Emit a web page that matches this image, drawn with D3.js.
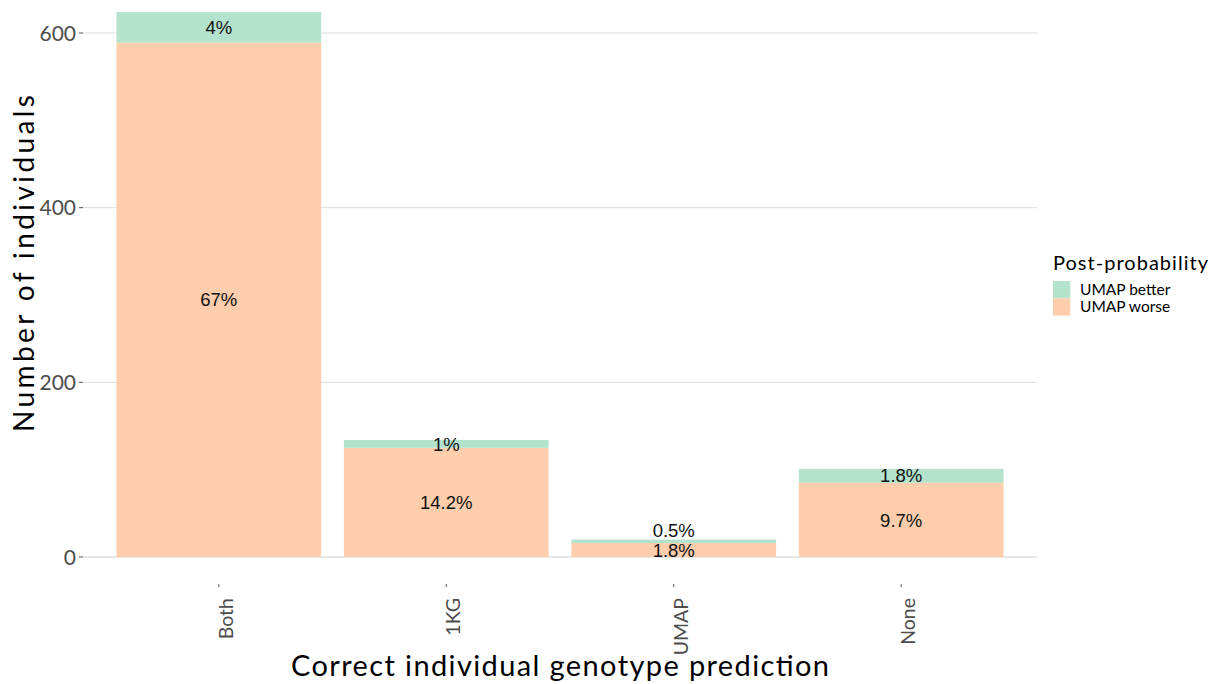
<!DOCTYPE html>
<html>
<head>
<meta charset="utf-8">
<script src="https://cdn.jsdelivr.net/npm/d3@7"></script>
<style>
  body { margin: 0; background: #fff; }
  svg { display: block; }
</style>
</head>
<body>
<svg id="chart" width="1218" height="684"></svg>
<script>
// ---- data ----
const categories = ["Both", "1KG", "UMAP", "None"];
const seriesNames = ["UMAP worse", "UMAP better"]; // stacked bottom -> top
const worseValues = [589, 125, 16, 85];
const betterValues = [35, 9, 4, 16];
const worseLabels = ["67%", "14.2%", "1.8%", "9.7%"];
const betterLabels = ["4%", "1%", "0.5%", "1.8%"];
const yTicks = [0, 200, 400, 600];
const legendNames = ["UMAP better", "UMAP worse"];
const colors = { "UMAP better": "#b3e2cd", "UMAP worse": "#fdcdac" };

const axisFont = "Lato, 'Open Sans', sans-serif";
const labelFont = "'Liberation Sans', Arial, sans-serif";

const svg = d3.select("#chart");
const panel = { left: 83, right: 1037, top: 12, bottom: 557 };

const x = d3.scaleBand().domain(categories)
  .range([panel.left, panel.right]).paddingInner(0.1).paddingOuter(0.147);
const y = d3.scaleLinear().domain([0, 600]).range([557, 33]);

// gridlines
svg.append("g").selectAll("line").data(yTicks).join("line")
  .attr("x1", panel.left).attr("x2", panel.right)
  .attr("y1", d => y(d)).attr("y2", d => y(d))
  .attr("stroke", d => d === 0 ? "#d0d0d0" : "#dcdcdc").attr("stroke-width", 1);

// stacked data
const rows = categories.map((c, i) => ({ cat: c, "UMAP worse": worseValues[i], "UMAP better": betterValues[i] }));
const stack = d3.stack().keys(seriesNames)(rows);

const layers = svg.append("g").selectAll("g").data(stack).join("g")
  .attr("fill", d => colors[d.key]);
layers.selectAll("rect").data(d => d).join("rect")
  .attr("x", d => x(d.data.cat))
  .attr("width", x.bandwidth())
  .attr("y", d => y(d[1]))
  .attr("height", d => y(d[0]) - y(d[1]));

// labels
const labelsByKey = { "UMAP worse": worseLabels, "UMAP better": betterLabels };
stack.forEach(layer => {
  layer.forEach((d, i) => {
    const top = y(d[1]), bot = y(d[0]);
    let cy = (top + bot) / 2;
    const isTop = layer.key === "UMAP better";
    if (isTop && (bot - top) < 5) cy = top - 9;
    svg.append("text")
      .attr("x", x(d.data.cat) + x.bandwidth() / 2)
      .attr("y", cy)
      .attr("dy", "0.36em")
      .attr("text-anchor", "middle")
      .attr("font-family", labelFont)
      .attr("font-size", 18.5)
      .attr("fill", "#111")
      .text(labelsByKey[layer.key][i]);
  });
});

// y axis ticks & labels
const ya = svg.append("g");
yTicks.forEach(t => {
  ya.append("line").attr("x1", 79).attr("x2", panel.left)
    .attr("y1", y(t)).attr("y2", y(t)).attr("stroke", "#555").attr("stroke-width", 1);
  ya.append("text").attr("x", 76).attr("y", y(t)).attr("dy", "0.36em")
    .attr("text-anchor", "end").attr("font-family", axisFont)
    .attr("font-size", 21).attr("fill", "#4d4d4d").text(t);
});

// x axis ticks & labels
const xa = svg.append("g");
categories.forEach(c => {
  const cx = x(c) + x.bandwidth() / 2;
  xa.append("line").attr("x1", cx).attr("x2", cx).attr("y1", 584).attr("y2", 587)
    .attr("stroke", "#555").attr("stroke-width", 1);
  xa.append("text")
    .attr("transform", `translate(${cx + 14},598) rotate(-90)`)
    .attr("text-anchor", "end")
    .attr("font-family", axisFont).attr("font-size", 19.5).attr("fill", "#4d4d4d")
    .text(c);
});

// axis titles
svg.append("text").attr("x", (panel.left + panel.right) / 2).attr("y", 676)
  .attr("text-anchor", "middle").attr("font-family", axisFont).attr("font-size", 29)
  .attr("textLength", 538).attr("lengthAdjust", "spacing")
  .attr("fill", "#000").text("Correct individual genotype prediction");
svg.append("text").attr("transform", "translate(34,263.5) rotate(-90)")
  .attr("text-anchor", "middle").attr("font-family", axisFont).attr("font-size", 28)
  .attr("textLength", 337).attr("lengthAdjust", "spacing")
  .attr("fill", "#000").text("Number of individuals");

// legend
const lg = svg.append("g");
lg.append("text").attr("x", 1053).attr("y", 270).attr("font-family", axisFont)
  .attr("font-size", 20).attr("textLength", 155).attr("lengthAdjust", "spacing")
  .attr("fill", "#000").text("Post-probability");
legendNames.forEach((n, i) => {
  lg.append("rect").attr("x", 1053).attr("y", 281 + i * 17.3).attr("width", 17.3).attr("height", 17.3)
    .attr("fill", colors[n]);
  lg.append("text").attr("x", 1080).attr("y", 289.5 + i * 17.3).attr("dy", "0.36em")
    .attr("font-family", axisFont).attr("font-size", 15.5)
    .attr("fill", "#000").text(n);
});
</script>
</body>
</html>
